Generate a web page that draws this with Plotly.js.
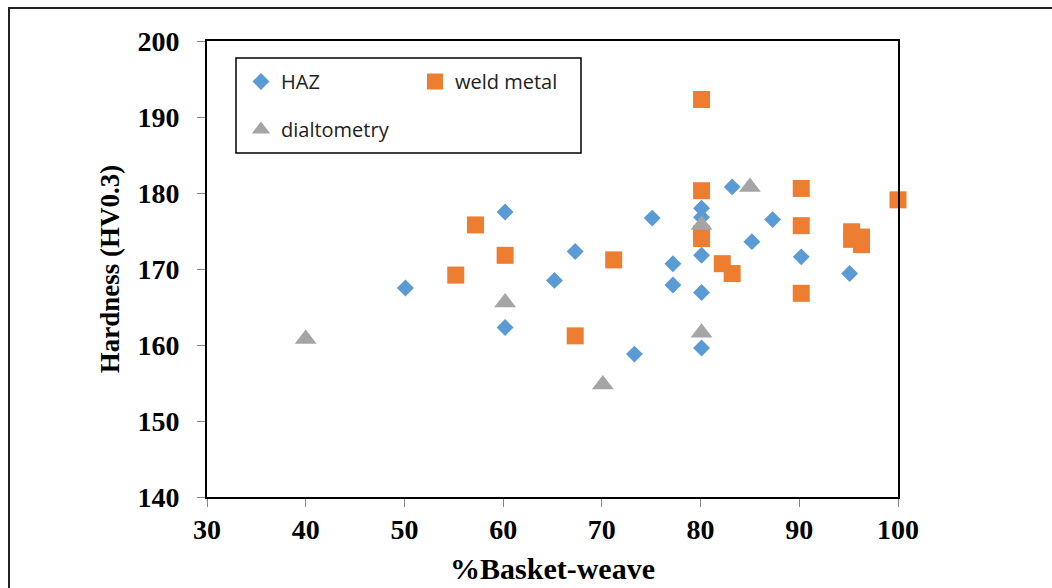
<!DOCTYPE html>
<html>
<head>
<meta charset="utf-8">
<script src="https://cdn.plot.ly/plotly-3.0.1.min.js"></script>
<style>
  html, body { margin: 0; padding: 0; background: #fff; }
  #chart { width: 1052px; height: 588px; }
</style>
</head>
<body>
<div id="chart"></div>
<script>
// Hardness vs. basket-weave fraction
const hazX = [50.1, 60.2, 60.2, 65.2, 67.3, 73.3, 75.1, 77.2, 77.2, 80.1, 80.1, 80.1, 80.1, 80.1, 83.2, 85.2, 87.3, 90.2, 95.1];
const hazY = [167.5, 177.5, 162.3, 168.5, 172.3, 158.8, 176.7, 170.7, 167.9, 178.0, 176.8, 171.8, 166.9, 159.6, 180.8, 173.6, 176.5, 171.6, 169.4];

const weldX = [55.2, 57.2, 60.2, 67.3, 71.2, 80.1, 80.1, 80.1, 80.1, 82.2, 83.2, 90.2, 90.2, 90.2, 95.3, 95.3, 96.3, 96.3, 100.0];
const weldY = [169.2, 175.8, 171.8, 161.2, 171.2, 192.3, 180.3, 174.6, 174.0, 170.7, 169.4, 180.6, 175.7, 166.8, 174.9, 173.9, 174.2, 173.2, 179.1];

const dilX = [40.0, 60.2, 70.1, 80.1, 80.1, 85.0];
const dilY = [160.8, 165.6, 154.8, 175.8, 161.6, 180.8];

const xTitle = '%Basket-weave';
const yTitle = 'Hardness (HV0.3)';
const seriesNames = ['HAZ', 'weld metal', 'dialtometry'];

const W = 1052, H = 588;
const M = { l: 207, r: 154, t: 41, b: 91 };
const pw = W - M.l - M.r, ph = H - M.t - M.b;
const fx = px => (px - M.l) / pw;      // pixel -> paper x
const fy = py => (H - M.b - py) / ph;  // pixel -> paper y

const serifFamily = 'Liberation Serif, Times New Roman, serif';
const tickFont = { family: serifFamily, size: 28, color: '#000', weight: 'bold' };

const traces = [
  { x: hazX, y: hazY, name: seriesNames[0], type: 'scatter', mode: 'markers', cliponaxis: false,
    marker: { symbol: 'diamond', size: 13, color: '#5B9BD5' }, legend: 'legend' },
  { x: weldX, y: weldY, name: seriesNames[1], type: 'scatter', mode: 'markers', cliponaxis: false,
    marker: { symbol: 'square', size: 17, color: '#ED7D31' }, legend: 'legend' },
  { x: dilX, y: dilY, name: seriesNames[2], type: 'scatter', mode: 'markers', cliponaxis: false,
    marker: { symbol: 'triangle-up', size: 19, color: '#A5A5A5' }, legend: 'legend2' }
];

const legendFont = { family: 'Open Sans, Liberation Sans, sans-serif', size: 20, color: '#222' };

const layout = {
  width: W, height: H,
  margin: { l: M.l, r: M.r, t: M.t, b: M.b, pad: 0 },
  paper_bgcolor: '#fff', plot_bgcolor: '#fff',
  showlegend: true,
  xaxis: {
    range: [30, 100], dtick: 10, tick0: 30,
    ticks: 'outside', ticklen: 8, tickwidth: 1, tickcolor: '#888',
    showline: true, linecolor: '#000', linewidth: 2, mirror: true,
    showgrid: false, zeroline: false,
    tickfont: tickFont, ticklabelstandoff: -2,
    title: { text: xTitle, font: { family: serifFamily, size: 30, color: '#000', weight: 'bold' }, standoff: 14 }
  },
  yaxis: {
    range: [140, 200], dtick: 10, tick0: 140,
    ticks: 'outside', ticklen: 8, tickwidth: 1, tickcolor: '#888',
    showline: true, linecolor: '#000', linewidth: 2, mirror: true,
    showgrid: false, zeroline: false,
    tickfont: tickFont, ticklabelstandoff: 12,
    title: { text: yTitle, font: { family: serifFamily, size: 27, color: '#000', weight: 'bold' }, standoff: 10 }
  },
  legend: {
    x: fx(241), y: fy(62), xanchor: 'left', yanchor: 'top',
    orientation: 'h', entrywidth: 129, entrywidthmode: 'pixels',
    bgcolor: 'rgba(0,0,0,0)', borderwidth: 0, font: legendFont
  },
  legend2: {
    x: fx(241), y: fy(110), xanchor: 'left', yanchor: 'top',
    orientation: 'h',
    bgcolor: 'rgba(0,0,0,0)', borderwidth: 0, font: legendFont
  },
  shapes: [
    // outer frame
    { type: 'rect', xref: 'paper', yref: 'paper', layer: 'below',
      x0: fx(9), x1: fx(1070), y0: fy(610), y1: fy(8),
      line: { color: '#222', width: 2 } },
    // legend box
    { type: 'rect', xref: 'paper', yref: 'paper',
      x0: fx(236), x1: fx(581), y0: fy(153), y1: fy(58),
      line: { color: '#000', width: 1.5 } }
  ]
};

Plotly.newPlot('chart', traces, layout, { staticPlot: true, displayModeBar: false });
</script>
</body>
</html>
